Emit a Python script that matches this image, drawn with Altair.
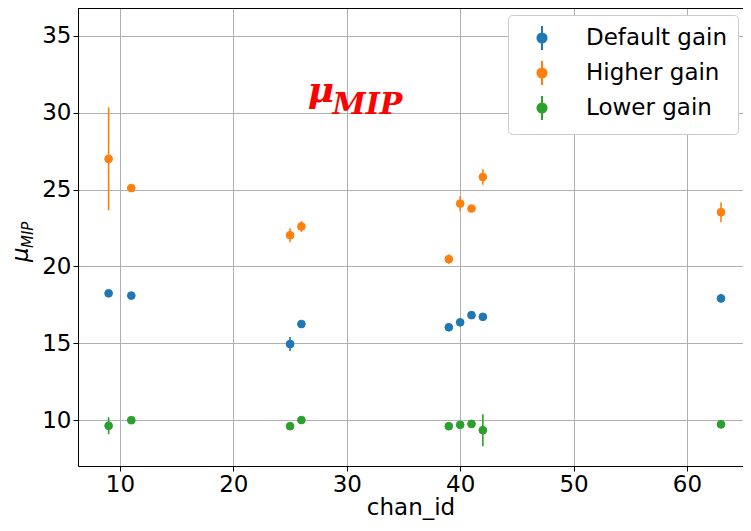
import altair as alt
import pandas as pd

# ---- data ----
chan_id = [9, 11, 25, 26, 39, 40, 41, 42, 63]
default_mu = [18.25, 18.10, 14.95, 16.25, 16.04, 16.36, 16.83, 16.72, 17.92]
default_err = [0.20, 0.15, 0.45, 0.15, 0.15, 0.20, 0.15, 0.15, 0.25]
higher_mu = [27.00, 25.10, 22.03, 22.60, 20.47, 24.09, 23.77, 25.82, 23.53]
higher_err = [3.35, 0.20, 0.45, 0.35, 0.30, 0.50, 0.15, 0.50, 0.65]
lower_mu = [9.63, 9.99, 9.60, 10.00, 9.60, 9.69, 9.75, 9.34, 9.72]
lower_err = [0.55, 0.15, 0.20, 0.25, 0.15, 0.15, 0.15, 1.04, 0.20]

series_names = ["Default gain", "Higher gain", "Lower gain"]
series_colors = ["#1f77b4", "#ff7f0e", "#2ca02c"]

x_ticks = [10, 20, 30, 40, 50, 60]
y_ticks = [10, 15, 20, 25, 30, 35]

rows = []
for name, mus, errs in zip(series_names, [default_mu, higher_mu, lower_mu],
                           [default_err, higher_err, lower_err]):
    for c, m, e in zip(chan_id, mus, errs):
        rows.append({"chan_id": c, "mu": m, "lo": m - e, "hi": m + e, "series": name})
df = pd.DataFrame(rows)

annot = pd.DataFrame([
    {"x": 26.55, "y": 30.71, "text": "μ", "size": 36},
    {"x": 28.75, "y": 29.95, "text": "MIP", "size": 30},
])

xscale = alt.Scale(domain=[6.3, 64.94], nice=False, zero=False)
yscale = alt.Scale(domain=[7.01, 36.82], nice=False, zero=False)
cscale = alt.Scale(domain=series_names, range=series_colors)

err_path = ("M0,-1V1M-0.38,0A0.38,0.38 0 1,0 0.38,0A0.38,0.38 0 1,0 -0.38,0Z")

leg = alt.Legend(
    title=None, orient="none", legendX=430, legendY=7,
    symbolType=err_path, symbolSize=576, symbolStrokeWidth=2,
    symbolOffset=11, labelOffset=31, labelFontSize=23,
    labelFont="DejaVu Sans", labelColor="black",
    padding=10, rowPadding=3, fillColor="white",
    strokeColor="#cccccc", cornerRadius=4, labelLimit=300,
    symbolOpacity=1,
)

base = alt.Chart(df)

rules = base.mark_rule(strokeWidth=1.6).encode(
    x=alt.X("chan_id:Q", scale=xscale,
            axis=alt.Axis(values=x_ticks, title="chan_id", format="d")),
    y=alt.Y("lo:Q", scale=yscale,
            axis=alt.Axis(values=y_ticks, title=None, format="d")),
    y2="hi:Q",
    color=alt.Color("series:N", scale=cscale, legend=leg),
)

points = base.mark_point(filled=True, size=60, opacity=1, strokeWidth=1).encode(
    x=alt.X("chan_id:Q", scale=xscale),
    y=alt.Y("mu:Q", scale=yscale),
    color=alt.Color("series:N", scale=cscale, legend=leg),
    stroke=alt.Stroke("series:N", scale=cscale, legend=leg),
)

# top spine of the frame (right spine lies outside the picture)
top_frame = alt.Chart(pd.DataFrame({"k": [0]})).mark_rule(
    color="black", strokeWidth=1
).encode(x=alt.value(0), x2=alt.value(665), y=alt.value(0.5))

annot_text = alt.Chart(annot).mark_text(
    font="DejaVu Serif", fontWeight="bold", fontStyle="italic",
    color="red", align="left", baseline="alphabetic",
).encode(
    x=alt.X("x:Q", scale=xscale),
    y=alt.Y("y:Q", scale=yscale),
    text="text:N",
    size=alt.Size("size:Q", scale=None, legend=None),
)

ylab_mu = alt.Chart(pd.DataFrame({"t": ["μ"]})).mark_text(
    font="DejaVu Sans", fontStyle="italic", fontSize=23, angle=270,
    align="left", baseline="alphabetic", color="black",
).encode(x=alt.value(-50), y=alt.value(254), text="t:N")

ylab_sub = alt.Chart(pd.DataFrame({"t": ["MIP"]})).mark_text(
    font="DejaVu Sans", fontStyle="italic", fontSize=15, angle=270,
    align="left", baseline="alphabetic", color="black",
).encode(x=alt.value(-45), y=alt.value(240), text="t:N")

chart = alt.layer(rules, points, top_frame, annot_text, ylab_mu, ylab_sub).properties(
    width=665, height=458,
    autosize=alt.AutoSizeParams(type="none"),
    padding={"left": 70, "top": 0, "right": 0, "bottom": 57},
).configure_view(
    stroke=None,
).configure_axis(
    labelFont="DejaVu Sans", labelFontSize=23, labelColor="black",
    titleFont="DejaVu Sans", titleFontSize=23, titleColor="black",
    titleFontWeight="normal",
    tickColor="black", tickSize=5, domainColor="black", domainWidth=1,
    gridColor="#b0b0b0", gridWidth=1, labelPadding=2,
).configure_axisX(titlePadding=0)

chart.save("out.html", embed_options={"renderer": "svg", "actions": False})
